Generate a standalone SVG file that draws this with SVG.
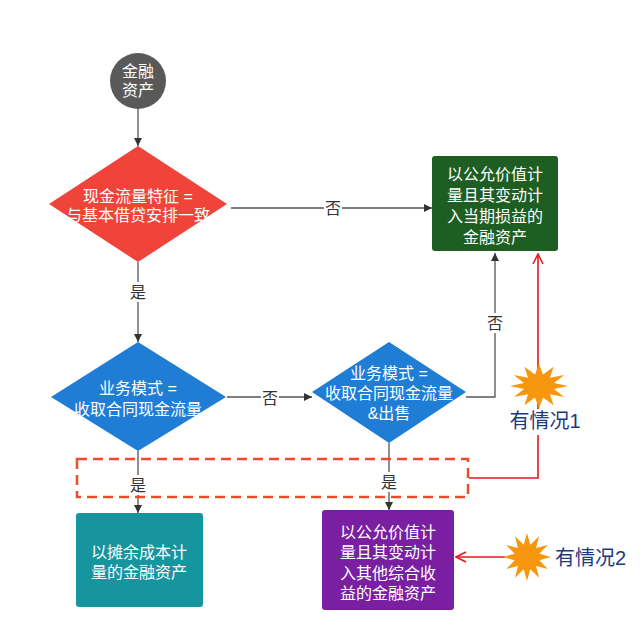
<svg xmlns="http://www.w3.org/2000/svg" xmlns:xlink="http://www.w3.org/1999/xlink" width="640" height="643" viewBox="0 0 640 643">
<style>
.t{font-family:"Liberation Sans","Noto Sans CJK SC",sans-serif;font-size:16px;fill:#ffffff;text-anchor:middle}
.lbl{font-family:"Liberation Sans","Noto Sans CJK SC",sans-serif;font-size:16px;fill:#333333;text-anchor:middle}
.note{font-family:"Liberation Sans","Noto Sans CJK SC",sans-serif;font-size:20px;fill:#1b3a80}
.c{fill:none;stroke:#555555;stroke-width:1.3}
.r{fill:none;stroke:#e8161e;stroke-width:1.6}
.bg{fill:#ffffff}
</style>
<defs>
<marker id="ah" viewBox="0 0 10 10" refX="10" refY="5" markerWidth="9" markerHeight="8" markerUnits="userSpaceOnUse" orient="auto">
<path d="M0,0 L10,5 L0,10 Z" fill="#333333"/>
</marker>
<marker id="ro" viewBox="0 0 12 12" refX="11" refY="6" markerWidth="12" markerHeight="12" markerUnits="userSpaceOnUse" orient="auto">
<path d="M1,1 L11,6 L1,11" fill="none" stroke="#e8161e" stroke-width="1.6"/>
</marker>
<polygon id="burst" fill="#f7960f" points="30,0 15.45,4.14 25.98,15 11.31,11.31 15,25.98 4.14,15.45 0,30 -4.14,15.45 -15,25.98 -11.31,11.31 -25.98,15 -15.45,4.14 -30,0 -15.45,-4.14 -25.98,-15 -11.31,-11.31 -15,-25.98 -4.14,-15.45 0,-30 4.14,-15.45 15,-25.98 11.31,-11.31 25.98,-15 15.45,-4.14"/>
</defs>
<rect width="640" height="643" fill="#ffffff"/>

<g id="connectors">
<path class="c" d="M138,109 V146" marker-end="url(#ah)" stroke="#333333"/>
<path class="c" d="M231,208 H432" marker-end="url(#ah)"/>
<path class="c" d="M138,262 V342" marker-end="url(#ah)"/>
<path class="c" d="M227,397 H312" marker-end="url(#ah)"/>
<path class="c" d="M466,397 H495 V253" marker-end="url(#ah)"/>
<path class="c" d="M138,451 V513" marker-end="url(#ah)"/>
<path class="c" d="M389,443 V510" marker-end="url(#ah)"/>
<path class="r" d="M469,478 H538 V254" marker-end="url(#ro)"/>
<path class="r" d="M505,557 H456" marker-end="url(#ro)"/>
<rect class="bg" x="324" y="198" width="18" height="20"/>
<text class="lbl" x="333" y="214">否</text>
<rect class="bg" x="129" y="282" width="18" height="20"/>
<text class="lbl" x="138" y="298">是</text>
<rect class="bg" x="261" y="388" width="18" height="20"/>
<text class="lbl" x="270" y="404">否</text>
<rect class="bg" x="486" y="313" width="18" height="20"/>
<text class="lbl" x="495" y="329">否</text>
</g>

<g id="group-box">
<rect x="77" y="459" width="391" height="38" fill="none" stroke="#e8502a" stroke-width="2.5" stroke-dasharray="10 6"/>
<rect class="bg" x="129" y="475" width="18" height="20"/>
<text class="lbl" x="138" y="491">是</text>
<rect class="bg" x="380" y="472" width="18" height="20"/>
<text class="lbl" x="389" y="488">是</text>
</g>

<g id="start">
<circle cx="138" cy="81" r="28" fill="#595959"/>
<text class="t" x="138" y="77">金融</text>
<text class="t" x="138" y="96">资产</text>
</g>

<g id="d1">
<polygon points="138,146 227,204 138,262 49,204" fill="#f0443a"/>
<text class="t" x="138" y="202">现金流量特征 =</text>
<text class="t" x="138" y="221">与基本借贷安排一致</text>
</g>

<g id="fvpl">
<rect x="432" y="156" width="126" height="95" rx="3" fill="#1e5e22"/>
<text class="t" x="495" y="180">以公允价值计</text>
<text class="t" x="495" y="201">量且其变动计</text>
<text class="t" x="495" y="222">入当期损益的</text>
<text class="t" x="495" y="243">金融资产</text>
</g>

<g id="d2">
<polygon points="138,342 226,397 138,451 51,397" fill="#1f7dd6"/>
<text class="t" x="138" y="394">业务模式 =</text>
<text class="t" x="138" y="415">收取合同现金流量</text>
</g>

<g id="d3">
<polygon points="389,342 466,392 389,443 312,392" fill="#1f7dd6"/>
<text class="t" x="389" y="379">业务模式 =</text>
<text class="t" x="389" y="399">收取合同现金流量</text>
<text class="t" x="389" y="419">&amp;出售</text>
</g>

<g id="amortized">
<rect x="76" y="513" width="127" height="94" rx="3" fill="#17959f"/>
<text class="t" x="139" y="558">以摊余成本计</text>
<text class="t" x="139" y="578">量的金融资产</text>
</g>

<g id="fvoci">
<rect x="322" y="510" width="132" height="100" rx="3" fill="#7a1fa2"/>
<text class="t" x="388" y="538">以公允价值计</text>
<text class="t" x="388" y="558">量且其变动计</text>
<text class="t" x="388" y="579">入其他综合收</text>
<text class="t" x="388" y="599">益的金融资产</text>
</g>

<g id="case1">
<use xlink:href="#burst" transform="translate(539,386) scale(0.97,0.74)"/>
<rect class="bg" x="508" y="409" width="74" height="26"/>
<text class="note" x="545" y="428" text-anchor="middle">有情况1</text>
</g>

<g id="case2">
<use xlink:href="#burst" transform="translate(527,557) scale(0.8,0.8)"/>
<text class="note" x="555" y="565">有情况2</text>
</g>
</svg>
